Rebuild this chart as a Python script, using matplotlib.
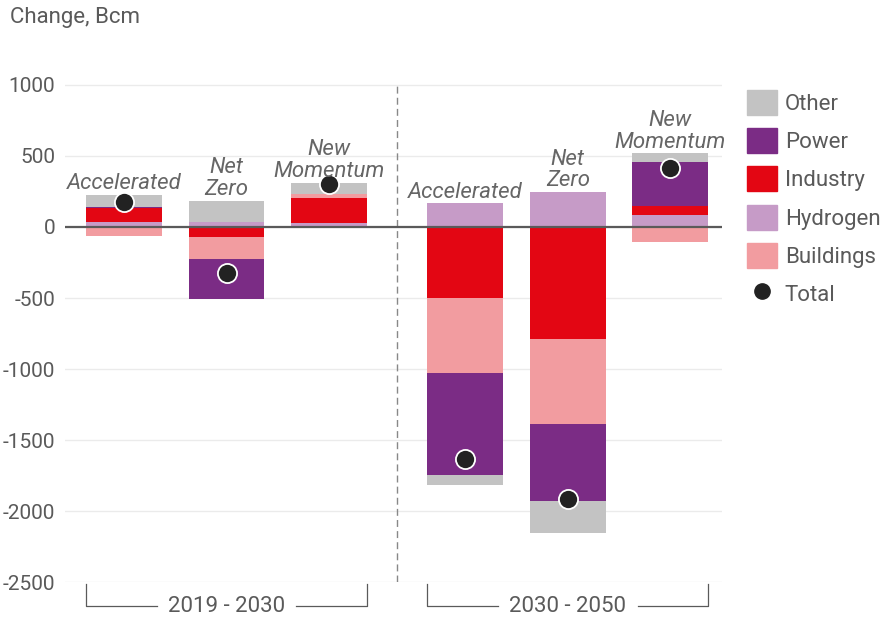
import numpy as np
import matplotlib
matplotlib.use('Agg')
import matplotlib.pyplot as plt
from matplotlib.patches import Patch
from matplotlib.lines import Line2D

# данные: изменение спроса на газ, млрд куб. м
scenarios = ['Accelerated', 'Net\nZero', 'New\nMomentum',
             'Accelerated', 'Net\nZero', 'New\nMomentum']
periods = ['2019 - 2030', '2030 - 2050']
hydrogen = [38, 38, 30, 167, 246, 82]
industry = [94, -68, 176, -503, -792, 66]
buildings = [-61, -155, 23, -522, -592, -106]
power = [7, -287, -5, -718, -542, 307]
other = [85, 148, 82, -75, -230, 63]
total = [176, -322, 305, -1637, -1912, 413]

sectors = ['Hydrogen', 'Industry', 'Buildings', 'Power', 'Other']
colors = {'Other': '#c3c3c3', 'Power': '#7b2c85', 'Industry': '#e30613',
          'Hydrogen': '#c69bc7', 'Buildings': '#f29ca0'}
values = {'Hydrogen': hydrogen, 'Industry': industry, 'Buildings': buildings,
          'Power': power, 'Other': other}

plt.rcParams['font.family'] = ['Roboto', 'DejaVu Sans']
plt.rcParams['axes.unicode_minus'] = False
grey = '#5a5a5a'

x = np.array([0, 1, 2, 3.33, 4.33, 5.33])
width = 0.74

fig = plt.figure(figsize=(8.94, 6.17), dpi=100)
ax = fig.add_axes([65 / 894, 0.0567, (722 - 65) / 894, 0.8746])

# положительные и отрицательные части складываются отдельно
pos = np.zeros(len(x))
neg = np.zeros(len(x))
for s in sectors:
    v = np.array(values[s], dtype=float)
    bottoms = np.where(v >= 0, pos, neg)
    ax.bar(x, v, width, bottom=bottoms, color=colors[s], zorder=2)
    pos = pos + np.where(v >= 0, v, 0)
    neg = neg + np.where(v < 0, v, 0)

ax.scatter(x, total, s=190, color='#222222', edgecolor='white', linewidth=1.3, zorder=4)

# подписи сценариев над столбцами
for xi, top, name in zip(x, pos, scenarios):
    ax.annotate(name, (xi, top), xytext=(0, 0.5), textcoords='offset points',
                ha='center', va='bottom', fontsize=16, style='italic',
                color='#666666', linespacing=1.05, zorder=5)

ax.axhline(0, color=grey, linewidth=1.6, zorder=3)
ax.vlines(2.663, -2500, 1000, color='#888888', linewidth=1, linestyle=(0, (5, 3)), zorder=1)

ax.set_xlim(-0.576, 5.834)
ax.set_ylim(-2500, 1300)
ax.set_yticks([1000, 500, 0, -500, -1000, -1500, -2000, -2500])
ax.yaxis.grid(True, color='#ebebeb', linewidth=1, zorder=0)
ax.set_axisbelow(True)
ax.set_xticks([])
ax.tick_params(axis='y', length=0, labelsize=15, labelcolor=grey, pad=7)
for sp in ax.spines.values():
    sp.set_visible(False)

# скобки с периодами внизу
for g, label in enumerate(periods):
    x0 = x[g * 3] - width / 2
    x1 = x[g * 3 + 2] + width / 2
    xm = (x0 + x1) / 2
    y_top, y_bot = -2515, -2670
    ax.plot([x0, x0, xm - 0.68], [y_top, y_bot, y_bot], color=grey, lw=0.9, clip_on=False)
    ax.plot([xm + 0.68, x1, x1], [y_bot, y_bot, y_top], color=grey, lw=0.9, clip_on=False)
    ax.text(xm, y_bot, label, ha='center', va='center', fontsize=16, color=grey)

fig.text(10 / 894, 1 - 18 / 617, 'Change, Bcm', fontsize=16, color=grey, va='center')

# легенда
handles = [Patch(color=colors[s]) for s in ['Other', 'Power', 'Industry', 'Hydrogen', 'Buildings']]
handles.append(Line2D([], [], marker='o', color='#222222', linestyle='', markersize=11))
labels = ['Other', 'Power', 'Industry', 'Hydrogen', 'Buildings', 'Total']
fig.legend(handles, labels, loc='upper left', bbox_to_anchor=(729 / 894, 1 - 72 / 617),
           frameon=False, fontsize=16, handlelength=1.35, handleheight=1.35,
           labelspacing=0.6, handletextpad=0.36, borderpad=0.3, labelcolor=grey)

plt.savefig('out.png', dpi=100)
